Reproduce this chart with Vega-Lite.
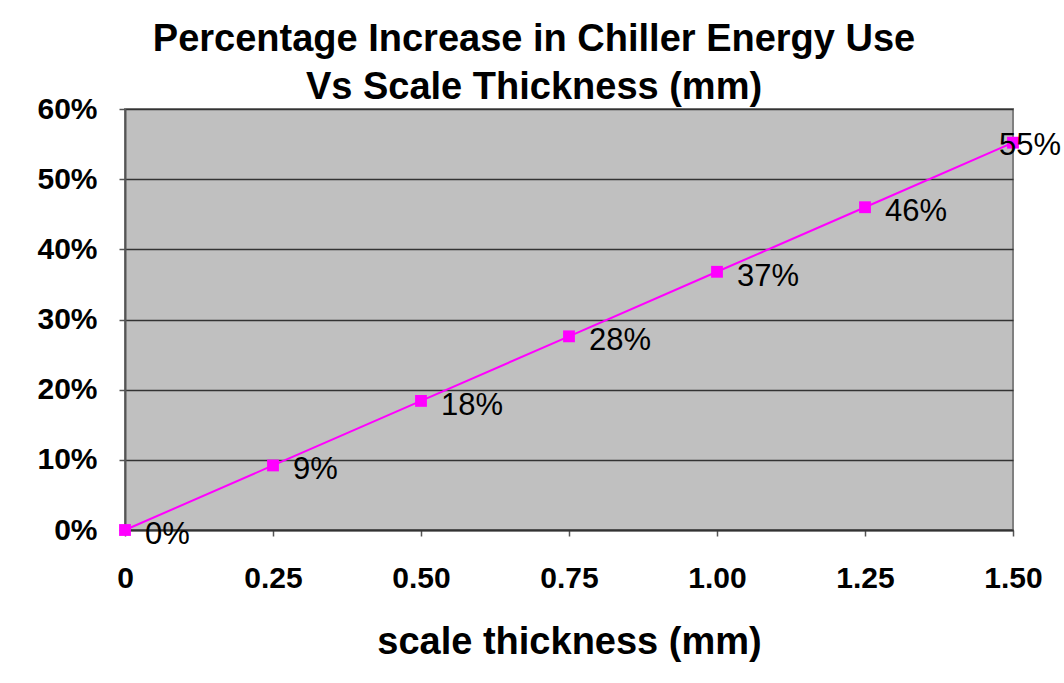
{
  "$schema": "https://vega.github.io/schema/vega-lite/v6.json",
  "width": 888,
  "height": 421,
  "autosize": {"type": "none"},
  "padding": {"left": 125, "top": 109, "right": 51, "bottom": 153},
  "background": "white",
  "title": {
    "text": ["Percentage Increase in Chiller Energy Use", "Vs Scale Thickness (mm)"],
    "font": "Liberation Sans",
    "fontSize": 38,
    "fontWeight": "bold",
    "color": "black",
    "anchor": "middle",
    "dx": -35,
    "lineHeight": 48,
    "offset": -13
  },
  "config": {
    "view": {"fill": "#C0C0C0", "stroke": "#808080", "strokeWidth": 2},
    "font": "Liberation Sans"
  },
  "data": {
    "values": [
      {"thickness": 0, "increase": 0.0, "label": "0%"},
      {"thickness": 0.25, "increase": 0.092, "label": "9%"},
      {"thickness": 0.5, "increase": 0.184, "label": "18%"},
      {"thickness": 0.75, "increase": 0.276, "label": "28%"},
      {"thickness": 1.0, "increase": 0.368, "label": "37%"},
      {"thickness": 1.25, "increase": 0.46, "label": "46%"},
      {"thickness": 1.5, "increase": 0.552, "label": "55%"}
    ]
  },
  "encoding": {
    "x": {
      "field": "thickness",
      "type": "quantitative",
      "scale": {"domain": [0, 1.5], "nice": false, "zero": false},
      "axis": {
        "values": [0, 0.25, 0.5, 0.75, 1.0, 1.25, 1.5],
        "labelExpr": "datum.value == 0 ? '0' : format(datum.value, '.2f')",
        "grid": false,
        "domainColor": "#333333",
        "domainWidth": 2,
        "tickColor": "#555555",
        "tickSize": 6,
        "tickWidth": 1.5,
        "labelFont": "Liberation Sans",
        "labelFontSize": 30,
        "labelFontWeight": "bold",
        "labelColor": "black",
        "labelPadding": 27,
        "labelFlush": false,
        "title": "scale thickness (mm)",
        "titleFont": "Liberation Sans",
        "titleFontSize": 38,
        "titleFontWeight": "bold",
        "titleColor": "black",
        "titlePadding": 30
      }
    },
    "y": {
      "field": "increase",
      "type": "quantitative",
      "scale": {"domain": [0, 0.6], "nice": false},
      "axis": {
        "values": [0, 0.1, 0.2, 0.3, 0.4, 0.5, 0.6],
        "format": ".0%",
        "grid": true,
        "gridColor": "#333333",
        "gridWidth": 1.5,
        "domainColor": "#555555",
        "domainWidth": 2,
        "tickColor": "#555555",
        "tickSize": 6,
        "tickWidth": 1.5,
        "labelFont": "Liberation Sans",
        "labelFontSize": 30,
        "labelFontWeight": "bold",
        "labelColor": "black",
        "labelPadding": 22,
        "labelFlush": false,
        "title": null
      }
    }
  },
  "layer": [
    {
      "mark": {"type": "line", "color": "#FF00FF", "strokeWidth": 2, "clip": false}
    },
    {
      "mark": {"type": "square", "color": "#FF00FF", "opacity": 1, "filled": true, "size": 140, "clip": false}
    },
    {
      "transform": [{"filter": "datum.thickness < 1.5"}],
      "mark": {"type": "text", "align": "left", "baseline": "middle", "dx": 20, "dy": 5, "fontSize": 31, "font": "Liberation Sans", "color": "black"},
      "encoding": {"text": {"field": "label"}}
    },
    {
      "transform": [{"filter": "datum.thickness >= 1.5"}],
      "mark": {"type": "text", "align": "left", "baseline": "middle", "dx": -14, "dy": 3, "fontSize": 31, "font": "Liberation Sans", "color": "black", "clip": false},
      "encoding": {"text": {"field": "label"}}
    }
  ]
}
